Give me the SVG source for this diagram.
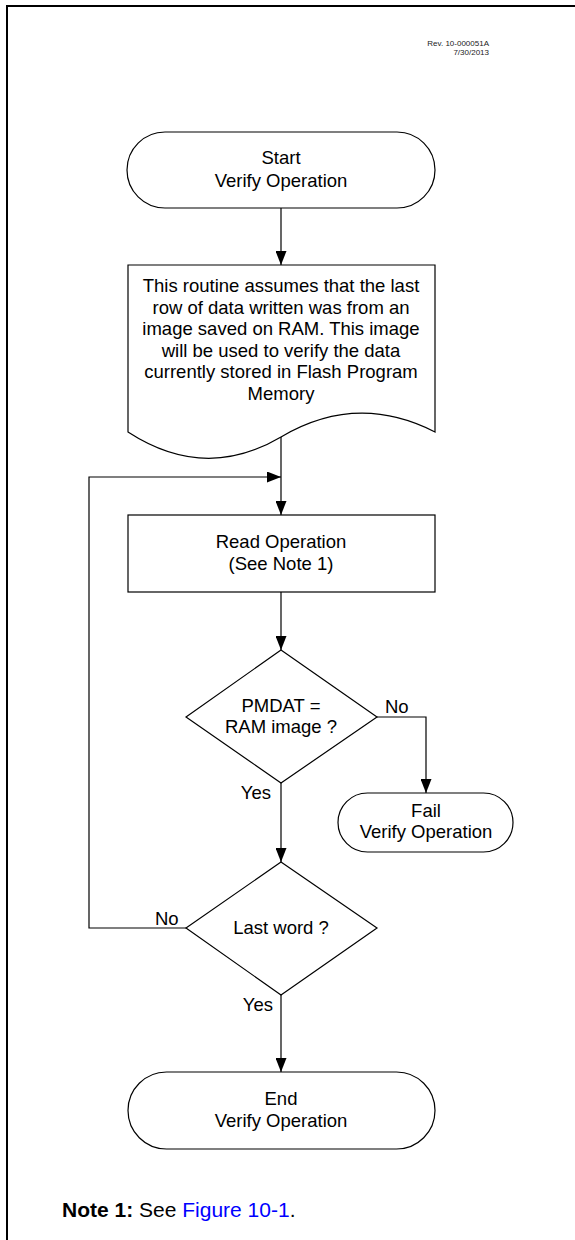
<svg xmlns="http://www.w3.org/2000/svg" width="575" height="1240" viewBox="0 0 575 1240">
<style>
.shape{fill:#fff;stroke:#000;stroke-width:1.2}
.t{font-family:"Liberation Sans",Arial,sans-serif;font-size:18.5px;fill:#000;text-anchor:middle}
.lbl{font-family:"Liberation Sans",Arial,sans-serif;font-size:18.5px;fill:#000}
.conn{fill:none;stroke:#000;stroke-width:1.2}
.rev{font-family:"Liberation Sans",Arial,sans-serif;font-size:8px;fill:#222;text-anchor:end}
.note{font-family:"Liberation Sans",Arial,sans-serif;font-size:21px;fill:#000}
</style>
<defs>
<marker id="arr" viewBox="0 0 14 11" refX="14" refY="5.5" markerWidth="14" markerHeight="11" markerUnits="userSpaceOnUse" orient="auto">
<path d="M0,0 L14,5.5 L0,11 Z" fill="#000"/>
</marker>
</defs>
<rect width="575" height="1240" fill="#fff"/>
<path d="M7,1240 V6 H575" fill="none" stroke="#000" stroke-width="2"/>
<g id="rev">
<text class="rev" x="489" y="46">Rev. 10-000051A</text>
<text class="rev" x="489" y="55">7/30/2013</text>
</g>
<g id="connectors">
<path class="conn" d="M281,208 V265" marker-end="url(#arr)"/>
<path class="conn" d="M281,437 V515" marker-end="url(#arr)"/>
<path class="conn" d="M186,928 H89 V477 H281" marker-end="url(#arr)"/>
<path class="conn" d="M281,592 V650" marker-end="url(#arr)"/>
<path class="conn" d="M377,717 H426 V793" marker-end="url(#arr)"/>
<path class="conn" d="M281,783 V862" marker-end="url(#arr)"/>
<path class="conn" d="M281,995 V1072" marker-end="url(#arr)"/>
<text class="lbl" x="385" y="713">No</text>
<text class="lbl" x="271" y="799" text-anchor="end">Yes</text>
<text class="lbl" x="155" y="925">No</text>
<text class="lbl" x="273" y="1011" text-anchor="end">Yes</text>
</g>
<g id="start">
<rect class="shape" x="127" y="132" width="308" height="76" rx="38"/>
<text class="t" x="281" y="164">Start</text>
<text class="t" x="281" y="187">Verify Operation</text>
</g>
<g id="doc">
<path class="shape" d="M128,265 H435 V432 Q357,392 281,437 Q205,482 128,432 Z"/>
<text class="t" x="281" y="292">This routine assumes that the last</text>
<text class="t" x="281" y="313.5">row of data written was from an</text>
<text class="t" x="281" y="335">image saved on RAM. This image</text>
<text class="t" x="281" y="356.5">will be used to verify the data</text>
<text class="t" x="281" y="378">currently stored in Flash Program</text>
<text class="t" x="281" y="399.5">Memory</text>
</g>
<g id="read">
<rect class="shape" x="128" y="515" width="307" height="77"/>
<text class="t" x="281" y="548">Read Operation</text>
<text class="t" x="281" y="570">(See Note 1)</text>
</g>
<g id="dec1">
<path class="shape" d="M281,650 L377,717 L281,783 L186,717 Z"/>
<text class="t" x="281" y="712">PMDAT =</text>
<text class="t" x="281" y="733">RAM image ?</text>
</g>
<g id="fail">
<rect class="shape" x="338" y="793" width="175" height="59" rx="29.5"/>
<text class="t" x="426" y="817">Fail</text>
<text class="t" x="426" y="838">Verify Operation</text>
</g>
<g id="dec2">
<path class="shape" d="M281,862 L377,928 L281,995 L186,928 Z"/>
<text class="t" x="281" y="934">Last word ?</text>
</g>
<g id="end">
<rect class="shape" x="128" y="1072" width="307" height="77" rx="38.5"/>
<text class="t" x="281" y="1105">End</text>
<text class="t" x="281" y="1127">Verify Operation</text>
</g>
<g id="note">
<text class="note" x="62" y="1217"><tspan font-weight="bold">Note 1:</tspan> See <tspan fill="#0000FF">Figure 10-1</tspan>.</text>
</g>
</svg>
